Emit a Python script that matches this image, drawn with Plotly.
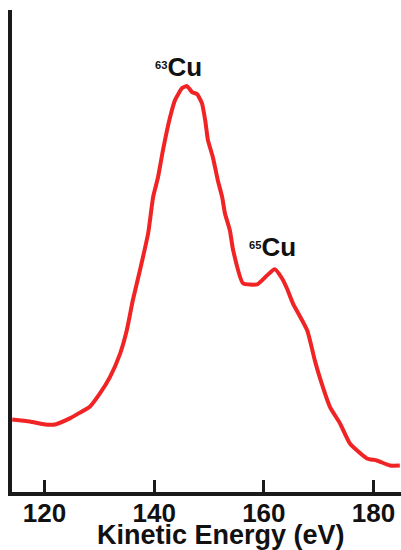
import plotly.graph_objects as go

# Kinetic energy (eV) and intensity (arb. units)
energy = [114.1, 117.3, 120.1, 121.9, 124.6, 126.5, 128.3, 130.1, 131.9, 133.8,
          135.0, 136.1, 137.4, 138.9, 139.8, 140.7, 141.6, 142.9, 143.8, 145.1,
          146.0, 146.9, 147.8, 148.7, 149.3, 149.8, 150.7, 151.6, 152.4, 152.9,
          153.8, 154.4, 156.2, 158.8, 160.6, 162.0, 163.3, 164.2, 165.3, 167.9,
          169.3, 170.2, 172.1, 173.9, 175.7, 178.8, 180.6, 183.0, 184.8]
intensity = [74, 72, 69, 69, 75, 81, 87, 100, 116, 140,
             163, 193, 223, 260, 296, 316, 343, 376, 393, 405,
             407, 401, 399, 390, 373, 353, 336, 313, 296, 280,
             263, 243, 210, 209, 218, 224, 215, 205, 190, 163,
             133, 116, 86, 70, 50, 35, 33, 28, 28]

tick_vals = [120, 140, 160, 180]
tick_text = ["120", "140", "160", "180"]

peak_labels = ["<span style='font-size:16px'><sup>63</sup></span>Cu",
               "<span style='font-size:16px'><sup>65</sup></span>Cu"]
peak_x = [144.4, 161.6]
peak_y = [426, 246]

x_title = "Kinetic Energy (eV)"

FONT = "Liberation Sans, Arial, sans-serif"
AX = "#1a1a1a"

fig = go.Figure()
fig.add_trace(go.Scatter(x=energy, y=intensity, mode="lines",
                         line=dict(color="#f02424", width=4, shape="spline", smoothing=0.5),
                         showlegend=False, hoverinfo="skip"))

for t, x, y in zip(peak_labels, peak_x, peak_y):
    fig.add_annotation(x=x, y=y, xref="x", yref="y", text=t, showarrow=False,
                       xanchor="center", yanchor="middle",
                       font=dict(family=FONT, size=26, color="#111", weight="bold"))

fig.add_annotation(x=152.2, y=-0.0883, xref="x", yref="paper", text=x_title,
                   showarrow=False, xanchor="center", yanchor="middle",
                   font=dict(family=FONT, size=27, color="#111", weight="bold"))

fig.update_layout(
    width=401, height=550,
    margin=dict(l=12, r=0, t=10, b=58, pad=0),
    paper_bgcolor="white", plot_bgcolor="white",
    xaxis=dict(range=[114.06, 185.02], showgrid=False, zeroline=False,
               showline=True, linecolor=AX, linewidth=4,
               ticks="inside", ticklen=12, tickwidth=3, tickcolor=AX,
               tickvals=tick_vals, ticktext=tick_text, ticklabelstandoff=-5,
               tickfont=dict(family=FONT, size=26, color="#111", weight="bold")),
    yaxis=dict(range=[1.5, 483], showgrid=False, zeroline=False,
               showline=True, linecolor=AX, linewidth=4,
               showticklabels=False, ticks=""),
)

fig.write_html("out.html", config={"displayModeBar": False},
               post_script="document.body.style.margin='0';document.body.style.overflow='hidden';")
